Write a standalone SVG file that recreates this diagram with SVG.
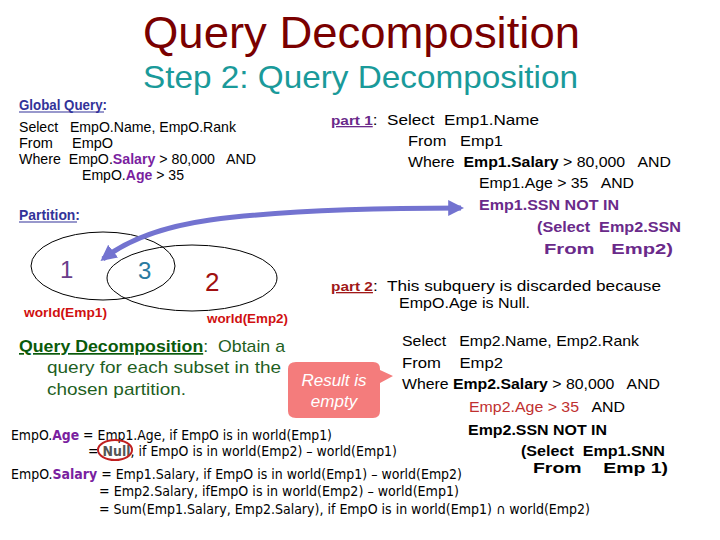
<svg xmlns="http://www.w3.org/2000/svg" width="720" height="540" viewBox="0 0 720 540">
<style>
text{font-family:"Liberation Sans",Arial,sans-serif;fill:#000;white-space:pre}
.t{font-size:14.5px}
.b{font-weight:bold}
.pu{fill:#7a1fa0;font-weight:bold}
.hd{font-size:14px;font-weight:bold}
.ul{stroke:#333399;stroke-width:1.2}
.cm{font-family:"DejaVu Sans Condensed","DejaVu Sans",sans-serif;font-size:14px}
</style>
<defs>
<marker id="ah" viewBox="0 0 10 10" refX="8" refY="5" markerWidth="3.2" markerHeight="3.2" orient="auto-start-reverse">
<path d="M0,0 L10,5 L0,10 z" fill="#7373d0"/>
</marker>
</defs>
<rect width="720" height="540" fill="#fff"/>

<g id="title">
<text x="143" y="48" font-size="44" style="fill:#7a0000" textLength="437" lengthAdjust="spacingAndGlyphs">Query Decomposition</text>
<text x="143" y="88" font-size="32" style="fill:#1a9a9a" textLength="435" lengthAdjust="spacingAndGlyphs">Step 2: Query Decomposition</text>
</g>

<g id="global-query">
<text x="19" y="110" class="hd" style="fill:#333399" textLength="88" lengthAdjust="spacingAndGlyphs">Global Query:</text>
<line x1="19" y1="112" x2="104" y2="112" class="ul"/>
<text x="19" y="132" class="t" textLength="217" lengthAdjust="spacingAndGlyphs">Select   EmpO.Name, EmpO.Rank</text>
<text x="19" y="148" class="t">From</text><text x="72" y="148" class="t">EmpO</text>
<text x="19" y="164" class="t" textLength="237" lengthAdjust="spacingAndGlyphs">Where  EmpO.<tspan class="pu">Salary</tspan> &gt; 80,000   AND</text>
<text x="82" y="180" class="t" textLength="102" lengthAdjust="spacingAndGlyphs">EmpO.<tspan class="pu">Age</tspan> &gt; 35</text>
</g>

<g id="part1">
<text x="331" y="125" class="t" textLength="208" lengthAdjust="spacingAndGlyphs"><tspan class="b" style="fill:#6a2a8a;text-decoration:underline;font-size:13px">part 1</tspan>:  Select  Emp1.Name</text>
<text x="408" y="146" class="t" textLength="95" lengthAdjust="spacingAndGlyphs">From   Emp1</text>
<text x="408" y="167" class="t" textLength="263" lengthAdjust="spacingAndGlyphs">Where  <tspan class="b">Emp1.Salary</tspan> &gt; 80,000   AND</text>
<text x="479" y="188" class="t" textLength="155" lengthAdjust="spacingAndGlyphs">Emp1.Age &gt; 35   AND</text>
<text x="479" y="210" class="t b" style="fill:#6a2a8a" textLength="140" lengthAdjust="spacingAndGlyphs">Emp1.SSN NOT IN</text>
<text x="537" y="232" class="t b" style="fill:#6a2a8a" textLength="144" lengthAdjust="spacingAndGlyphs">(Select  Emp2.SSN</text>
<text x="544" y="254" class="t b" style="fill:#6a2a8a" textLength="129" lengthAdjust="spacingAndGlyphs">From   Emp2)</text>
</g>

<g id="partition">
<text x="19" y="220" class="hd" style="fill:#333399" textLength="61" lengthAdjust="spacingAndGlyphs">Partition:</text>
<line x1="19" y1="222" x2="77" y2="222" class="ul"/>
<ellipse cx="103" cy="266" rx="72" ry="34" fill="none" stroke="#000" stroke-width="1"/>
<ellipse cx="192" cy="278" rx="85" ry="33" fill="none" stroke="#000" stroke-width="1"/>
<text x="60" y="278" font-size="24" style="fill:#6a3d8a">1</text>
<text x="138" y="279" font-size="24" style="fill:#2a7aa0">3</text>
<text x="205" y="291" font-size="26" style="fill:#a01010">2</text>
<text x="24" y="317" font-size="12" class="b" style="fill:#d01010" textLength="83" lengthAdjust="spacingAndGlyphs">world(Emp1)</text>
<text x="207" y="323" font-size="12" class="b" style="fill:#d01010" textLength="81" lengthAdjust="spacingAndGlyphs">world(Emp2)</text>
</g>

<g id="connectors">
<path d="M461 208 Q300 208 210 220 Q140 230 103 259" fill="none" stroke="#7373d0" stroke-width="5" marker-start="url(#ah)" marker-end="url(#ah)"/>
</g>

<g id="part2">
<text x="331" y="291" class="t" textLength="330" lengthAdjust="spacingAndGlyphs"><tspan class="b" style="fill:#a01818;text-decoration:underline;font-size:13px">part 2</tspan>:  This subquery is discarded because</text>
<text x="399" y="308" class="t" textLength="131" lengthAdjust="spacingAndGlyphs">EmpO.Age is Null.</text>
</g>

<g id="query-decomposition">
<text x="19" y="352" font-size="17" style="fill:#1f5f1f" textLength="266" lengthAdjust="spacingAndGlyphs"><tspan class="b" style="fill:#0a5a0a;text-decoration:underline">Query Decomposition</tspan>:  Obtain a</text>
<text x="47" y="373" font-size="17" style="fill:#1f5f1f" textLength="234" lengthAdjust="spacingAndGlyphs">query for each subset in the</text>
<text x="47" y="395" font-size="17" style="fill:#1f5f1f" textLength="139" lengthAdjust="spacingAndGlyphs">chosen partition.</text>
</g>

<g id="result-callout">
<path d="M296 362 H373 Q380 362 380 369 V370 L393 376 L380 383 V411 Q380 418 373 418 H296 Q288 418 288 411 V369 Q288 362 296 362 Z" fill="#f47c7c"/>
<text x="334" y="386" font-size="17" font-style="italic" text-anchor="middle" style="fill:#fff">Result is</text>
<text x="334" y="407" font-size="17" font-style="italic" text-anchor="middle" style="fill:#fff">empty</text>
</g>

<g id="part2-query">
<text x="402" y="346" class="t" textLength="237" lengthAdjust="spacingAndGlyphs">Select   Emp2.Name, Emp2.Rank</text>
<text x="402" y="368" class="t" textLength="101" lengthAdjust="spacingAndGlyphs">From    Emp2</text>
<text x="402" y="389" class="t" textLength="258" lengthAdjust="spacingAndGlyphs">Where <tspan class="b">Emp2.Salary</tspan> &gt; 80,000   AND</text>
<text x="469" y="412" class="t" textLength="156" lengthAdjust="spacingAndGlyphs"><tspan style="fill:#c03030">Emp2.Age &gt; 35</tspan>   AND</text>
<text x="468" y="435" class="t b" textLength="139" lengthAdjust="spacingAndGlyphs">Emp2.SSN NOT IN</text>
<text x="521" y="456" class="t b" textLength="144" lengthAdjust="spacingAndGlyphs">(Select  Emp1.SNN</text>
<text x="533" y="473" class="t b" textLength="135" lengthAdjust="spacingAndGlyphs">From    Emp 1)</text>
</g>

<g id="age-def">
<text x="11" y="440" class="cm" textLength="321" lengthAdjust="spacingAndGlyphs">EmpO.<tspan class="pu">Age</tspan> = Emp1.Age, if EmpO is in world(Emp1)</text>
<text x="88" y="456" class="cm" textLength="309" lengthAdjust="spacingAndGlyphs">= <tspan class="b" style="fill:#555">Null</tspan>, if EmpO is in world(Emp2) – world(Emp1)</text>
<ellipse cx="115" cy="450" rx="17" ry="10" fill="none" stroke="#c02020" stroke-width="2"/>
</g>

<g id="salary-def">
<text x="11" y="479" class="cm" textLength="451" lengthAdjust="spacingAndGlyphs">EmpO.<tspan class="pu">Salary</tspan> = Emp1.Salary, if EmpO is in world(Emp1) – world(Emp2)</text>
<text x="99" y="496" class="cm" textLength="360" lengthAdjust="spacingAndGlyphs">= Emp2.Salary, ifEmpO is in world(Emp2) – world(Emp1)</text>
<text x="99" y="514" class="cm" textLength="491" lengthAdjust="spacingAndGlyphs">= Sum(Emp1.Salary, Emp2.Salary), if EmpO is in world(Emp1) ∩ world(Emp2)</text>
</g>
</svg>
